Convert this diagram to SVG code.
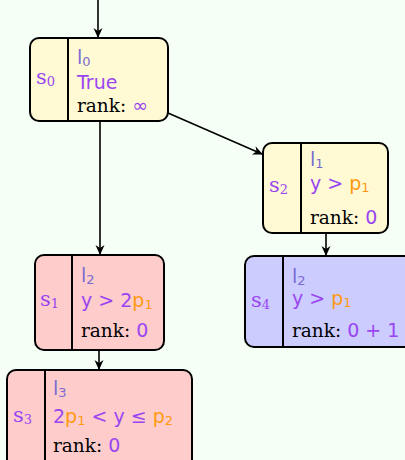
<svg xmlns="http://www.w3.org/2000/svg" width="405" height="460" viewBox="0 0 405 460">
<style>
.box{stroke:#000;stroke-width:2}
.div{stroke:#000;stroke-width:2}
.m{font-family:"DejaVu Sans",sans-serif;font-size:19px;fill:#9a46f0}
.s{font-family:"DejaVu Serif",serif;font-size:21px;fill:#9a46f0}
.l{font-family:"DejaVu Sans",sans-serif;font-size:19px;fill:#7a6ad0}
.o{fill:#ff9a10}
.r{font-family:"DejaVu Serif",serif;font-size:18.5px;fill:#000}
.sub{font-size:13px}
.e{stroke:#000;stroke-width:1.6;fill:none;marker-end:url(#ah)}
</style>
<defs>
<marker id="ah" viewBox="0 0 10 10" refX="9" refY="5" markerWidth="11" markerHeight="10" orient="auto" markerUnits="userSpaceOnUse">
<path d="M0,0.5 L10,5 L0,9.5 L3,5 z" fill="#000"/>
</marker>
</defs>
<rect width="405" height="460" fill="#f6fff6"/>
<g id="edges">
<line class="e" x1="98" y1="0" x2="98" y2="37"/>
<line class="e" x1="100" y1="121" x2="100" y2="254"/>
<line class="e" x1="168" y1="113" x2="262" y2="154"/>
<line class="e" x1="326" y1="233" x2="326" y2="255"/>
<line class="e" x1="99" y1="350" x2="99" y2="369"/>
</g>
<g id="s0">
<rect class="box" x="30" y="38" width="138" height="83" rx="9" fill="#fffad4"/>
<line class="div" x1="68" y1="38" x2="68" y2="121"/>
<text class="s" x="36" y="84">s<tspan class="sub" dy="2">0</tspan></text>
<text class="l" x="77" y="64">l<tspan class="sub" dy="2">0</tspan></text>
<text class="m" x="77" y="89">True</text>
<text class="r" x="77" y="112">rank: <tspan class="m" font-size="26">∞</tspan></text>
</g>
<g id="s2">
<rect class="box" x="263" y="143" width="125" height="90" rx="9" fill="#fffad4"/>
<line class="div" x1="301" y1="143" x2="301" y2="233"/>
<text class="s" x="269" y="192">s<tspan class="sub" dy="2">2</tspan></text>
<text class="l" x="310" y="166">l<tspan class="sub" dy="2">1</tspan></text>
<text class="m" x="310" y="190">y &gt; <tspan class="o">p<tspan class="sub" dy="2">1</tspan></tspan></text>
<text class="r" x="310" y="224">rank: <tspan class="m">0</tspan></text>
</g>
<g id="s1">
<rect class="box" x="35" y="255" width="129" height="95" rx="9" fill="#ffcccc"/>
<line class="div" x1="72" y1="255" x2="72" y2="350"/>
<text class="s" x="40" y="306">s<tspan class="sub" dy="2">1</tspan></text>
<text class="l" x="81" y="282">l<tspan class="sub" dy="2">2</tspan></text>
<text class="m" x="81" y="307">y &gt; 2<tspan class="o">p<tspan class="sub" dy="2">1</tspan></tspan></text>
<text class="r" x="81" y="337">rank: <tspan class="m">0</tspan></text>
</g>
<g id="s4">
<rect class="box" x="245" y="256" width="168" height="91" rx="9" fill="#ccccff"/>
<line class="div" x1="283" y1="256" x2="283" y2="347"/>
<text class="s" x="251" y="307">s<tspan class="sub" dy="2">4</tspan></text>
<text class="l" x="292" y="283">l<tspan class="sub" dy="2">2</tspan></text>
<text class="m" x="292" y="305">y &gt; <tspan class="o">p<tspan class="sub" dy="2">1</tspan></tspan></text>
<text class="r" x="292" y="337">rank: <tspan class="m">0 + 1</tspan></text>
</g>
<g id="s3">
<rect class="box" x="7" y="370" width="185" height="100" rx="9" fill="#ffcccc"/>
<line class="div" x1="45" y1="370" x2="45" y2="470"/>
<text class="s" x="13" y="422">s<tspan class="sub" dy="2">3</tspan></text>
<text class="l" x="53" y="395">l<tspan class="sub" dy="2">3</tspan></text>
<text class="m" x="53" y="423">2<tspan class="o">p<tspan class="sub" dy="2">1</tspan></tspan><tspan dy="-2"> &lt; y ≤ </tspan><tspan class="o">p<tspan class="sub" dy="2">2</tspan></tspan></text>
<text class="r" x="53" y="452">rank: <tspan class="m">0</tspan></text>
</g>
</svg>
